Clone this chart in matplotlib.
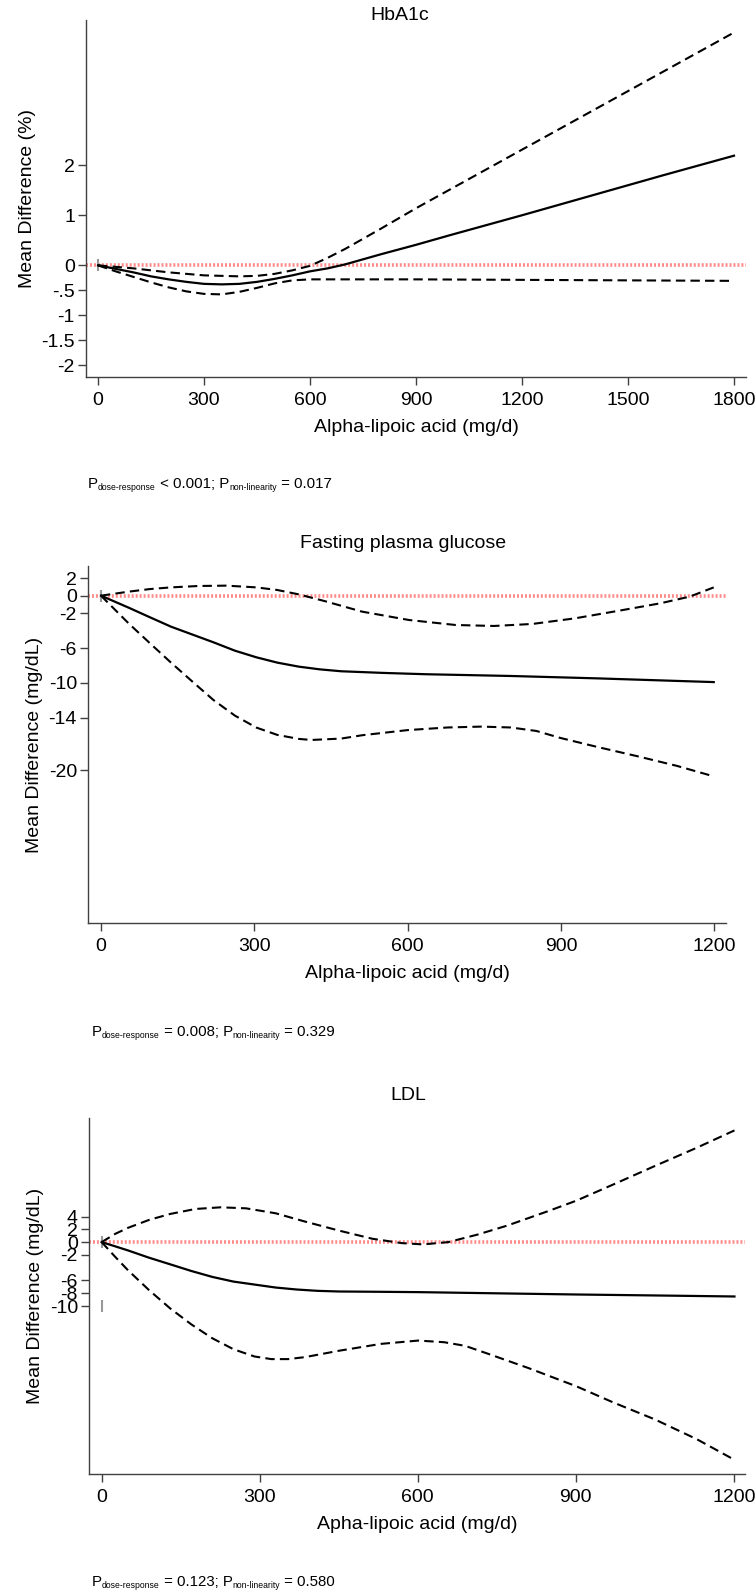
import matplotlib
matplotlib.use("Agg")
import matplotlib.pyplot as plt
from matplotlib.ticker import FixedLocator, FixedFormatter

plt.rcParams['font.family'] = ['Liberation Sans', 'DejaVu Sans']

# ---------------- data ----------------
# Panel 1: HbA1c
hba_x_est = [0, 50, 100, 150, 200, 250, 300, 350, 400, 450, 500, 550, 600, 650, 700, 750, 800, 900, 1000, 1200, 1400, 1600, 1800]
hba_est = [0, -0.07, -0.14, -0.22, -0.28, -0.33, -0.37, -0.38, -0.37, -0.33, -0.27, -0.20, -0.12, -0.06, 0.02, 0.12, 0.22, 0.41, 0.61, 1.00, 1.40, 1.80, 2.19]
hba_x_up = [0, 50, 100, 150, 200, 250, 300, 350, 400, 450, 500, 550, 600, 650, 700, 800, 900, 1200, 1500, 1800]
hba_up = [0, -0.03, -0.06, -0.10, -0.14, -0.17, -0.20, -0.21, -0.22, -0.21, -0.17, -0.10, -0.01, 0.15, 0.33, 0.73, 1.14, 2.31, 3.48, 4.65]
hba_x_lo = [0, 50, 100, 150, 200, 250, 300, 350, 400, 450, 500, 550, 600, 700, 900, 1200, 1500, 1800]
hba_lo = [0, -0.12, -0.23, -0.34, -0.44, -0.52, -0.57, -0.58, -0.53, -0.45, -0.36, -0.30, -0.28, -0.28, -0.28, -0.29, -0.30, -0.31]

# Panel 2: Fasting plasma glucose
fpg_x_est = [0, 54, 96, 137, 220, 262, 304, 345, 387, 428, 470, 553, 636, 802, 969, 1199]
fpg_est = [0, -1.37, -2.48, -3.55, -5.34, -6.3, -7.06, -7.67, -8.13, -8.44, -8.66, -8.85, -9.0, -9.2, -9.47, -9.9]
fpg_x_up = [0, 54, 96, 137, 191, 245, 304, 345, 387, 437, 511, 603, 694, 769, 844, 927, 1010, 1094, 1152, 1199]
fpg_up = [0, 0.46, 0.76, 0.95, 1.11, 1.15, 0.95, 0.65, 0.15, -0.61, -1.83, -2.79, -3.36, -3.47, -3.24, -2.60, -1.76, -0.88, -0.11, 0.95]
fpg_x_lo = [0, 54, 96, 137, 179, 220, 262, 304, 345, 387, 412, 470, 511, 600, 678, 744, 802, 852, 899, 969, 1050, 1127, 1199]
fpg_lo = [0, -3.17, -5.46, -7.67, -9.85, -11.95, -13.74, -15.11, -15.95, -16.41, -16.53, -16.37, -15.99, -15.4, -15.1, -15.0, -15.1, -15.5, -16.3, -17.3, -18.4, -19.5, -20.7]

# Panel 3: LDL
ldl_x_est = [0, 26, 50, 90, 130, 170, 210, 250, 299, 330, 370, 410, 450, 530, 601, 770, 901, 1050, 1201]
ldl_est = [0, -0.67, -1.30, -2.44, -3.47, -4.51, -5.44, -6.17, -6.74, -7.10, -7.41, -7.62, -7.72, -7.77, -7.82, -8.03, -8.19, -8.34, -8.50]
ldl_x_up = [0, 26, 50, 90, 130, 178, 226, 274, 330, 386, 450, 514, 570, 610, 658, 714, 770, 850, 901, 970, 1050, 1130, 1201]
ldl_up = [0, 1.30, 2.23, 3.47, 4.4, 5.18, 5.44, 5.28, 4.51, 3.21, 1.81, 0.52, -0.16, -0.36, 0, 1.19, 2.59, 4.92, 6.48, 8.97, 11.9, 14.77, 17.46]
ldl_x_lo = [0, 26, 50, 90, 130, 170, 210, 250, 290, 322, 354, 386, 450, 530, 601, 650, 690, 730, 810, 901, 970, 1050, 1130, 1201]
ldl_lo = [0, -2.33, -4.40, -7.51, -10.36, -12.85, -15.03, -16.74, -17.88, -18.29, -18.29, -17.98, -16.99, -15.91, -15.39, -15.65, -16.22, -17.36, -19.69, -22.54, -25.03, -27.72, -30.83, -34.04]

# study data markers (dose, effect)
hba_mark_x = [0]
hba_mark_y = [0]
fpg_mark_x = [0]
fpg_mark_y = [0]
ldl_mark_x = [0, 0]
ldl_mark_y = [0, -10]

# tick labels
hba_yticks = [2, 1, 0, -0.5, -1, -1.5, -2]
hba_ylabels = ['2', '1', '0', '-.5', '-1', '-1.5', '-2']
hba_xticks = [0, 300, 600, 900, 1200, 1500, 1800]
fpg_yticks = [2, 0, -2, -6, -10, -14, -20]
fpg_ylabels = ['2', '0', '-2', '-6', '-10', '-14', '-20']
fpg_xticks = [0, 300, 600, 900, 1200]
ldl_yticks = [4, 2, 0, -2, -6, -8, -10]
ldl_ylabels = ['4', '2', '0', '-2', '-6', '-8', '-10']
ldl_xticks = [0, 300, 600, 900, 1200]

titles = ['HbA1c', 'Fasting plasma glucose', 'LDL']
ylabels = ['Mean Difference (%)', 'Mean Difference (mg/dL)', 'Mean Difference (mg/dL)']
xlabels = ['Alpha-lipoic acid (mg/d)', 'Alpha-lipoic acid (mg/d)', 'Apha-lipoic acid (mg/d)']
pvals = [('<', '0.001', '0.017'), ('=', '0.008', '0.329'), ('=', '0.123', '0.580')]

# ---------------- layout ----------------
W, H = 755, 1596
fig = plt.figure(figsize=(W / 100, H / 100), dpi=100)
fig.patch.set_facecolor('white')

def add_axes(left, right, top, bottom):
    return fig.add_axes([left / W, 1 - bottom / H, (right - left) / W, (bottom - top) / H])

panels = [
    dict(box=(86, 746, 20, 377), xlim=(-34, 1834), ylim=(-2.23, 4.9),
         est=(hba_x_est, hba_est), up=(hba_x_up, hba_up), lo=(hba_x_lo, hba_lo),
         mk=(hba_mark_x, hba_mark_y), yt=(hba_yticks, hba_ylabels), xt=hba_xticks,
         title_xy=(400, 16), p_xy=(88, 488)),
    dict(box=(88, 726, 566, 923), xlim=(-25.4, 1223), ylim=(-37.5, 3.4),
         est=(fpg_x_est, fpg_est), up=(fpg_x_up, fpg_up), lo=(fpg_x_lo, fpg_lo),
         mk=(fpg_mark_x, fpg_mark_y), yt=(fpg_yticks, fpg_ylabels), xt=fpg_xticks,
         title_xy=(403, 544), p_xy=(92, 1036)),
    dict(box=(89, 745, 1118, 1474), xlim=(-24, 1221), ylim=(-36.25, 19.4),
         est=(ldl_x_est, ldl_est), up=(ldl_x_up, ldl_up), lo=(ldl_x_lo, ldl_lo),
         mk=(ldl_mark_x, ldl_mark_y), yt=(ldl_yticks, ldl_ylabels), xt=ldl_xticks,
         title_xy=(408, 1096), p_xy=(92, 1586)),
]

spine_col = '#404040'
tick_fs = 14
lab_fs = 14
dash = (0, (4.5, 2.5))

renderer = fig.canvas.get_renderer()

def rich_text(x, y, parts):
    cur = x
    for s, size, dy in parts:
        t = fig.text(cur / W, 1 - (y + dy) / H, s, fontsize=size, ha='left', va='baseline', color='black')
        bb = t.get_window_extent(renderer)
        cur += bb.width

for i, p in enumerate(panels):
    ax = add_axes(*p['box'])
    ax.set_xlim(*p['xlim'])
    ax.set_ylim(*p['ylim'])
    for s in ['top', 'right']:
        ax.spines[s].set_visible(False)
    for s in ['left', 'bottom']:
        ax.spines[s].set_color(spine_col)
        ax.spines[s].set_linewidth(1.0)
    ax.axhline(0, color='#ff8a8a', lw=2.6, linestyle=(0, (0.55, 0.55)), zorder=1)
    ax.plot(*p['est'], color='black', lw=1.6, zorder=3)
    ax.plot(*p['up'], color='black', lw=1.5, linestyle=dash, zorder=3)
    ax.plot(*p['lo'], color='black', lw=1.5, linestyle=dash, zorder=3)
    ax.plot(*p['mk'], linestyle='none', marker='|', markersize=9, mew=1.5, color='#999999', zorder=2)
    yt, yl = p['yt']
    ax.yaxis.set_major_locator(FixedLocator(yt))
    ax.yaxis.set_major_formatter(FixedFormatter(yl))
    ax.xaxis.set_major_locator(FixedLocator(p['xt']))
    ax.xaxis.set_major_formatter(FixedFormatter([str(v) for v in p['xt']]))
    ax.tick_params(axis='both', direction='out', length=6, width=1.0, color=spine_col,
                   labelsize=tick_fs, pad=2)
    ax.tick_params(axis='x', pad=5)
    ax.set_xlabel(xlabels[i], fontsize=lab_fs, labelpad=7)
    ax.set_ylabel(ylabels[i], fontsize=lab_fs, labelpad=4)
    tx, ty = p['title_xy']
    fig.text(tx / W, 1 - ty / H, titles[i], fontsize=lab_fs, ha='center', va='center')
    op, v1, v2 = pvals[i]
    px, py = p['p_xy']
    rich_text(px, py, [('P', 10.8, 0), ('dose-response', 6.2, 2), (' %s %s; P' % (op, v1), 10.8, 0),
                       ('non-linearity', 6.2, 2), (' = %s' % v2, 10.8, 0)])

fig.savefig('out.png', dpi=100, facecolor='white')
